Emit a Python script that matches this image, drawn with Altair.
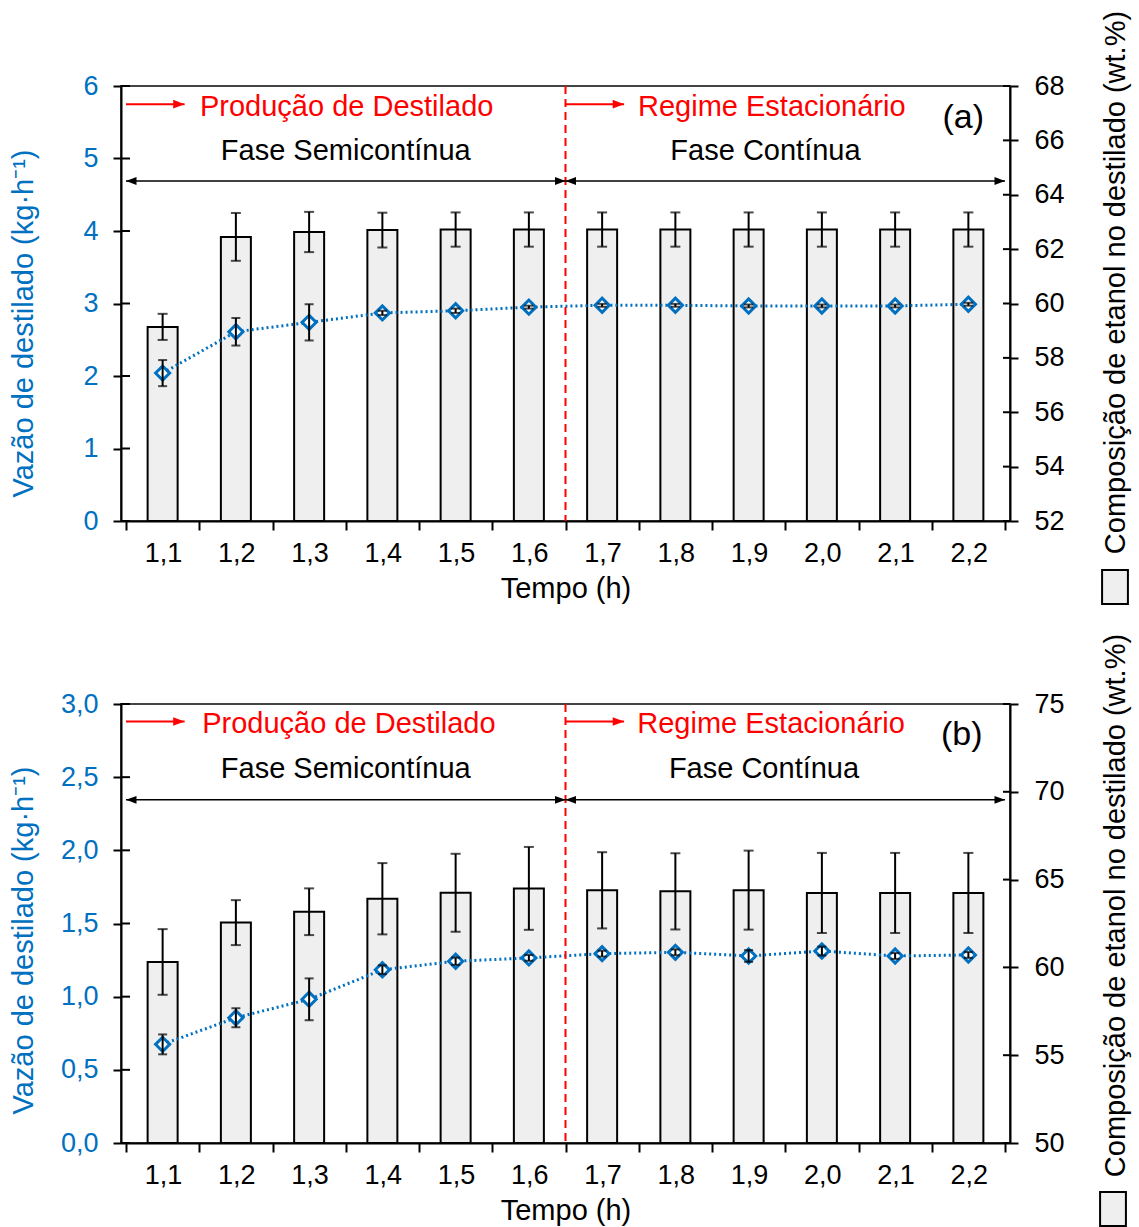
import json
import altair as alt
import pandas as pd

# ---------------- data ----------------
categories = ["1,1", "1,2", "1,3", "1,4", "1,5", "1,6", "1,7", "1,8", "1,9", "2,0", "2,1", "2,2"]

# panel (a)
flow_a = [2.04, 2.61, 2.74, 2.87, 2.90, 2.95, 2.975, 2.975, 2.966, 2.966, 2.966, 2.99]
flow_err_a = [0.18, 0.19, 0.25, 0.03, 0.03, 0.02, 0.02, 0.02, 0.02, 0.02, 0.02, 0.02]
comp_a = [59.14, 62.45, 62.63, 62.70, 62.72, 62.72, 62.72, 62.72, 62.72, 62.72, 62.72, 62.72]
comp_err_a = [0.48, 0.88, 0.74, 0.64, 0.63, 0.63, 0.63, 0.63, 0.63, 0.63, 0.63, 0.63]

# panel (b)
flow_b = [0.674, 0.856, 0.982, 1.184, 1.242, 1.265, 1.294, 1.303, 1.278, 1.312, 1.278, 1.285]
flow_err_b = [0.068, 0.065, 0.143, 0.03, 0.025, 0.02, 0.02, 0.02, 0.04, 0.03, 0.02, 0.02]
comp_b = [60.31, 62.55, 63.17, 63.91, 64.25, 64.50, 64.39, 64.33, 64.40, 64.24, 64.24, 64.24]
comp_err_b = [1.87, 1.28, 1.33, 2.03, 2.22, 2.36, 2.17, 2.17, 2.25, 2.28, 2.28, 2.28]

left_ticks_a = [0, 1, 2, 3, 4, 5, 6]
right_ticks_a = [52, 54, 56, 58, 60, 62, 64, 66, 68]
left_ticks_b = [0.0, 0.5, 1.0, 1.5, 2.0, 2.5, 3.0]
right_ticks_b = [50, 55, 60, 65, 70, 75]

left_title = "Vazão de destilado (kg·h⁻¹)"
right_title = "Composição de etanol no destilado (wt.%)"
x_title = "Tempo (h)"

red_texts = ["Produção de Destilado", "Regime Estacionário"]
phase_texts = ["Fase Semicontínua", "Fase Contínua"]

FONT = "Liberation Sans"
BLUE = "#0070C0"
RED = "#FF0000"
W = 889
N = len(categories)
HEAD_R = "M0,0L-2,-0.75L-2,0.75Z"
HEAD_L = "M0,0L2,-0.75L2,0.75Z"
LEG_SHAPE = "M-0.76,-1L0.76,-1L0.76,1L-0.76,1Z"

AX_STYLE = dict(labelFont=FONT, titleFont=FONT, labelFontSize=27, titleFontSize=29,
                titleFontWeight="normal", domainColor="black", tickColor="black",
                domainWidth=2, tickWidth=2, grid=False)


def panel(flow, flow_err, comp, comp_err, left_vals, right_vals, h, tag,
          ann, ltitle_y, rtitle_y, leg_xy, comma_fmt):
    df = pd.DataFrame({
        "idx": list(range(1, N + 1)),
        "flow": flow,
        "flo": [f - e for f, e in zip(flow, flow_err)],
        "fhi": [f + e for f, e in zip(flow, flow_err)],
        "comp": comp,
        "clo": [c - e for c, e in zip(comp, comp_err)],
        "chi": [c + e for c, e in zip(comp, comp_err)],
        "base": right_vals[0],
        "series": "Composição",
    })

    xscale = alt.Scale(domain=[0.5, N + 0.5], nice=False, zero=False)
    xaxis = alt.Axis(
        title=x_title,
        values=[i + 0.5 for i in range(N + 1)],
        labelExpr=f"datum.value < {N} ? {json.dumps(categories)}[round(datum.value - 0.5)] : ''",
        labelOffset=W / N / 2,
        labelFlush=False,
        labelOverlap=False,
        labelPadding=10,
        tickSize=9,
        titlePadding=8,
        **AX_STYLE,
    )

    def X(field):
        return alt.X(f"{field}:Q", scale=xscale, axis=xaxis)

    lscale = alt.Scale(domain=[left_vals[0], left_vals[-1]], nice=False, zero=False)
    laxis_kw = dict(
        orient="left", title=left_title, values=left_vals,
        labelColor=BLUE, titleColor=BLUE, tickSize=8, labelPadding=15,
        titleX=-83, titleY=ltitle_y, titleAngle=270, titleBaseline="bottom",
        **AX_STYLE,
    )
    if comma_fmt:
        laxis_kw["labelExpr"] = "replace(format(datum.value, '.1f'), '.', ',')"
    laxis = alt.Axis(**laxis_kw)

    def YL(field):
        return alt.Y(f"{field}:Q", scale=lscale, axis=laxis)

    rscale = alt.Scale(domain=[right_vals[0], right_vals[-1]], nice=False, zero=False)
    raxis = alt.Axis(
        orient="right", title=right_title, values=right_vals,
        labelColor="black", titleColor="black", tickSize=8, labelPadding=16,
        titleX=91, titleY=rtitle_y, titleAngle=270, titleBaseline="top",
        **AX_STYLE,
    )

    def YR(field):
        return alt.Y(f"{field}:Q", scale=rscale, axis=raxis)

    base = alt.Chart(df)

    # ---- right (composition) group: bars ----
    bars = base.mark_bar(width=30, stroke="black", strokeWidth=2).encode(
        x=X("idx"), y=YR("comp"), y2=alt.Y2("base"),
        fill=alt.Fill("series:N", scale=alt.Scale(range=["#efefef"]),
                      legend=alt.Legend(
                          orient="none", legendX=leg_xy[0], legendY=leg_xy[1],
                          title=None, labelExpr="''", symbolType=LEG_SHAPE,
                          symbolSize=1156, symbolStrokeColor="black",
                          symbolStrokeWidth=2, padding=0, labelFontSize=1,
                          symbolOpacity=1)),
    )
    bar_err = base.mark_rule(color="black", strokeWidth=2).encode(
        x=X("idx"), y=YR("clo"), y2=alt.Y2("chi"))
    bar_cap_hi = base.mark_tick(orient="horizontal", size=10, thickness=2, color="black").encode(
        x=X("idx"), y=YR("chi"))
    bar_cap_lo = base.mark_tick(orient="horizontal", size=10, thickness=2, color="black").encode(
        x=X("idx"), y=YR("clo"))
    # inner half of the right-axis ticks (ticks cross the axis line)
    r_inner = alt.Chart(pd.DataFrame({"v": right_vals})).mark_rule(
        color="black", strokeWidth=2).encode(
        y=YR("v"), x=alt.value(W - 7), x2=alt.value(W))
    right_group = alt.layer(bars, bar_err, bar_cap_hi, bar_cap_lo, r_inner)

    # ---- left (flow) group ----
    line = base.mark_line(color=BLUE, strokeWidth=3, strokeDash=[2, 3]).encode(
        x=X("idx"), y=YL("flow"))
    pts = base.mark_point(shape="diamond", size=200, filled=False, fill="white",
                          fillOpacity=1, stroke=BLUE, strokeWidth=3, opacity=1).encode(
        x=X("idx"), y=YL("flow"))
    f_err = base.mark_rule(color="black", strokeWidth=2).encode(
        x=X("idx"), y=YL("flo"), y2=alt.Y2("fhi"))
    f_cap_hi = base.mark_tick(orient="horizontal", size=9, thickness=2, color="black").encode(
        x=X("idx"), y=YL("fhi"))
    f_cap_lo = base.mark_tick(orient="horizontal", size=9, thickness=2, color="black").encode(
        x=X("idx"), y=YL("flo"))
    l_inner = alt.Chart(pd.DataFrame({"v": left_vals})).mark_rule(
        color="black", strokeWidth=2).encode(
        y=YL("v"), x=alt.value(0), x2=alt.value(9))

    # annotations
    divider = alt.Chart(pd.DataFrame({"x": [ann["div"]]})).mark_rule(
        color=RED, strokeWidth=2, strokeDash=[8, 5]).encode(x=X("x"))

    red_seg = pd.DataFrame({
        "x": [s[0] for s in ann["red_arrows"]],
        "x2": [s[1] for s in ann["red_arrows"]],
        "y": [ann["red_y"]] * len(ann["red_arrows"]),
    })
    red_lines = alt.Chart(red_seg).mark_rule(color=RED, strokeWidth=2).encode(
        x=X("x"), x2=alt.X2("x2"), y=YL("y"))
    red_heads = alt.Chart(red_seg).mark_point(
        shape=HEAD_R, size=130, filled=True, color=RED, opacity=1).encode(
        x=X("x2"), y=YL("y"))

    blk_seg = pd.DataFrame({
        "x": [s[0] for s in ann["phase_arrows"]],
        "x2": [s[1] for s in ann["phase_arrows"]],
        "y": [ann["phase_arrow_y"]] * len(ann["phase_arrows"]),
    })
    blk_lines = alt.Chart(blk_seg).mark_rule(color="black", strokeWidth=1.5).encode(
        x=X("x"), x2=alt.X2("x2"), y=YL("y"))
    blk_heads_l = alt.Chart(blk_seg).mark_point(
        shape=HEAD_L, size=110, filled=True, color="black", opacity=1).encode(
        x=X("x"), y=YL("y"))
    blk_heads_r = alt.Chart(blk_seg).mark_point(
        shape=HEAD_R, size=110, filled=True, color="black", opacity=1).encode(
        x=X("x2"), y=YL("y"))

    red_txt = alt.Chart(pd.DataFrame({
        "x": ann["red_text_x"], "y": [ann["red_text_y"]] * 2, "t": red_texts,
    })).mark_text(align="left", baseline="middle", fontSize=29, font=FONT, color=RED).encode(
        x=X("x"), y=YL("y"), text="t:N")
    phase_txt = alt.Chart(pd.DataFrame({
        "x": ann["phase_text_x"], "y": [ann["phase_text_y"]] * 2, "t": phase_texts,
    })).mark_text(align="center", baseline="middle", fontSize=29, font=FONT, color="black").encode(
        x=X("x"), y=YL("y"), text="t:N")
    tag_txt = alt.Chart(pd.DataFrame({
        "x": [ann["tag_x"]], "y": [ann["tag_y"]], "t": [tag],
    })).mark_text(align="center", baseline="middle", fontSize=34, font=FONT, color="black").encode(
        x=X("x"), y=YL("y"), text="t:N")

    left_group = alt.layer(line, pts, f_err, f_cap_hi, f_cap_lo, l_inner, divider,
                           red_lines, red_heads, blk_lines, blk_heads_l, blk_heads_r,
                           red_txt, phase_txt, tag_txt)

    return alt.layer(right_group, left_group).resolve_scale(y="independent").properties(
        width=W, height=h)


ann_a = dict(
    div=6.5,
    red_arrows=[(0.5, 1.3), (6.5, 7.3)], red_y=5.75,
    phase_arrows=[(0.5, 6.5), (6.5, 12.5)], phase_arrow_y=4.69,
    red_text_x=[1.51, 7.49], red_text_y=5.71,
    phase_text_x=[3.5, 9.23], phase_text_y=5.10,
    tag_x=11.93, tag_y=5.56,
)
ann_b = dict(
    div=6.5,
    red_arrows=[(0.5, 1.3), (6.5, 7.3)], red_y=2.88,
    phase_arrows=[(0.5, 6.5), (6.5, 12.5)], phase_arrow_y=2.345,
    red_text_x=[1.54, 7.48], red_text_y=2.86,
    phase_text_x=[3.5, 9.21], phase_text_y=2.556,
    tag_x=11.91, tag_y=2.79,
)

pa = panel(flow_a, flow_err_a, comp_a, comp_err_a, left_ticks_a, right_ticks_a, 435, "(a)",
           ann_a, 237, 196, (976, 483), False)
pb = panel(flow_b, flow_err_b, comp_b, comp_err_b, left_ticks_b, right_ticks_b, 439, "(b)",
           ann_b, 236, 201, (974, 487), True)

chart = alt.vconcat(pa, pb, spacing=23).resolve_scale(
    fill="independent", x="independent", y="independent"
).resolve_legend(fill="independent").properties(
    padding={"left": 7, "top": 9, "right": 0, "bottom": 0},
    background="white",
).configure_view(
    stroke="#444", strokeWidth=2
)

chart.save("out.html", embed_options={"renderer": "svg", "actions": False})
